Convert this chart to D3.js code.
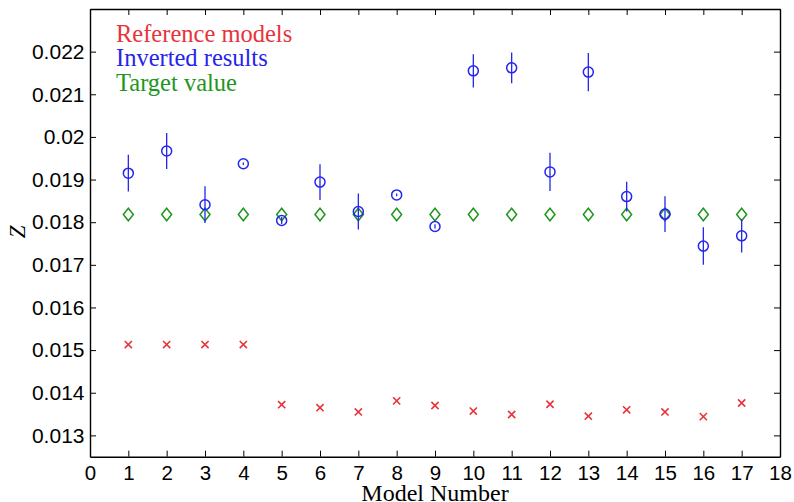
<!DOCTYPE html>
<html>
<head>
<meta charset="utf-8">
<script src="https://cdn.jsdelivr.net/npm/d3@7"></script>
<style>
  html, body { margin: 0; padding: 0; background: #fff; }
  svg { display: block; }
</style>
</head>
<body>
<svg id="chart" width="794" height="502"></svg>
<script>
// Model numbers on the x axis
const models = [1, 2, 3, 4, 5, 6, 7, 8, 9, 10, 11, 12, 13, 14, 15, 16, 17];

// Z of each reference model
const referenceZ = [0.01513, 0.01513, 0.01513, 0.01513, 0.01372, 0.01365, 0.01355, 0.01381,
                    0.01370, 0.01357, 0.01349, 0.01373, 0.01345, 0.01360, 0.01355, 0.01344, 0.01376];

// Inverted Z and its uncertainty
const invertedZ = [0.01915, 0.01967, 0.01841, 0.01937, 0.01804, 0.01894, 0.01825, 0.01864,
                   0.01790, 0.02155, 0.02162, 0.01918, 0.02152, 0.01860, 0.01819, 0.01744, 0.01768];
const invertedErr = [0.00043, 0.00042, 0.00043, 0.00003, 0.00008, 0.00042, 0.00042, 0.00003,
                     0.00005, 0.00039, 0.00036, 0.00045, 0.00045, 0.00035, 0.00042, 0.00044, 0.00039];

// Target Z used for every model
const targetZ = [0.01818, 0.01818, 0.01818, 0.01818, 0.01818, 0.01818, 0.01818, 0.01818,
                 0.01818, 0.01818, 0.01818, 0.01818, 0.01818, 0.01818, 0.01818, 0.01818, 0.01818];

// Axis ticks
const xTicks = [0, 1, 2, 3, 4, 5, 6, 7, 8, 9, 10, 11, 12, 13, 14, 15, 16, 17, 18];
const yTicks = [0.013, 0.014, 0.015, 0.016, 0.017, 0.018, 0.019, 0.020, 0.021, 0.022];
const yTickLabels = ["0.013", "0.014", "0.015", "0.016", "0.017", "0.018", "0.019", "0.02", "0.021", "0.022"];

const legendLabels = ["Reference models", "Inverted results", "Target value"];

const RED = "#e8333b", BLUE = "#2424ee", GREEN = "#1e961e";

const svg = d3.select("#chart");
const L = 90, R = 780, T = 9, B = 456.7;

const x = d3.scaleLinear().domain([0, 18]).range([L, R]);
const y = d3.scaleLinear().domain([0.0125, 0.023]).range([B, T]);

const tickFont = "'Liberation Sans', Arial, Helvetica, sans-serif";
const serif = "'Liberation Serif', 'Times New Roman', serif";
const tickLen = 6;

// Axes: labelled bottom/left, bare inward ticks on top/right
const xAxisBottom = d3.axisBottom(x).tickValues(xTicks).tickFormat(d3.format("d"))
  .tickSizeInner(-tickLen).tickSizeOuter(0).tickPadding(8.5);
const xAxisTop = d3.axisTop(x).tickValues(xTicks).tickFormat("")
  .tickSizeInner(-tickLen).tickSizeOuter(0);
const yAxisLeft = d3.axisLeft(y).tickValues(yTicks).tickFormat((d, i) => yTickLabels[i])
  .tickSizeInner(-tickLen).tickSizeOuter(0).tickPadding(5.5);
const yAxisRight = d3.axisRight(y).tickValues(yTicks).tickFormat("")
  .tickSizeInner(-tickLen).tickSizeOuter(0);

function styleAxis(g, size) {
  g.select(".domain").attr("stroke", "#000").attr("stroke-width", 1.4);
  g.selectAll(".tick line").attr("stroke", "#000").attr("stroke-width", 1);
  g.selectAll(".tick text").attr("fill", "#000")
    .style("font-family", tickFont).style("font-size", size + "px");
}

svg.append("g").attr("transform", `translate(0,${B})`).call(xAxisBottom).call(styleAxis, 20.5);
svg.append("g").attr("transform", `translate(0,${T})`).call(xAxisTop).call(styleAxis, 20);
svg.append("g").attr("transform", `translate(${L},0)`).call(yAxisLeft).call(styleAxis, 21);
svg.append("g").attr("transform", `translate(${R},0)`).call(yAxisRight).call(styleAxis, 20);

// Reference models: crosses
const cross = 3.6;
const refG = svg.append("g");
models.forEach((m, i) => {
  const cx = x(m), cy = y(referenceZ[i]);
  refG.append("path")
    .attr("d", `M${cx - cross},${cy - cross}L${cx + cross},${cy + cross}M${cx - cross},${cy + cross}L${cx + cross},${cy - cross}`)
    .attr("stroke", RED).attr("stroke-width", 1.6).attr("fill", "none");
});

// Target value: diamonds
const dw = 5, dh = 6.3;
svg.append("g").selectAll("path").data(models).join("path")
  .attr("d", (m, i) => {
    const cx = x(m), cy = y(targetZ[i]);
    return `M${cx},${cy - dh}L${cx + dw},${cy}L${cx},${cy + dh}L${cx - dw},${cy}Z`;
  })
  .attr("fill", "none").attr("stroke", GREEN).attr("stroke-width", 1.5);

// Inverted results: error bars then circles
svg.append("g").selectAll("line").data(models).join("line")
  .attr("x1", m => x(m)).attr("x2", m => x(m))
  .attr("y1", (m, i) => y(invertedZ[i] + invertedErr[i]))
  .attr("y2", (m, i) => y(invertedZ[i] - invertedErr[i]))
  .attr("stroke", BLUE).attr("stroke-width", 1.3);

svg.append("g").selectAll("circle").data(models).join("circle")
  .attr("cx", m => x(m)).attr("cy", (m, i) => y(invertedZ[i]))
  .attr("r", 5).attr("fill", "none").attr("stroke", BLUE).attr("stroke-width", 1.5);

// Legend text
const legendColors = [RED, BLUE, GREEN];
svg.append("g").selectAll("text").data(legendLabels).join("text")
  .attr("x", 116).attr("y", (d, i) => 41.7 + i * 24.5)
  .attr("fill", (d, i) => legendColors[i])
  .style("font-family", serif).style("font-size", "24.5px")
  .text(d => d);

// Axis titles
svg.append("text")
  .attr("x", 435).attr("y", 500.5)
  .attr("text-anchor", "middle")
  .style("font-family", serif).style("font-size", "24px").attr("fill", "#000")
  .text("Model Number");

svg.append("text")
  .attr("transform", `translate(24.5,${(T + B) / 2 - 1}) rotate(-90)`)
  .attr("text-anchor", "middle")
  .style("font-family", serif).style("font-size", "23px").style("font-style", "italic").attr("fill", "#000")
  .text("Z");
</script>
</body>
</html>
